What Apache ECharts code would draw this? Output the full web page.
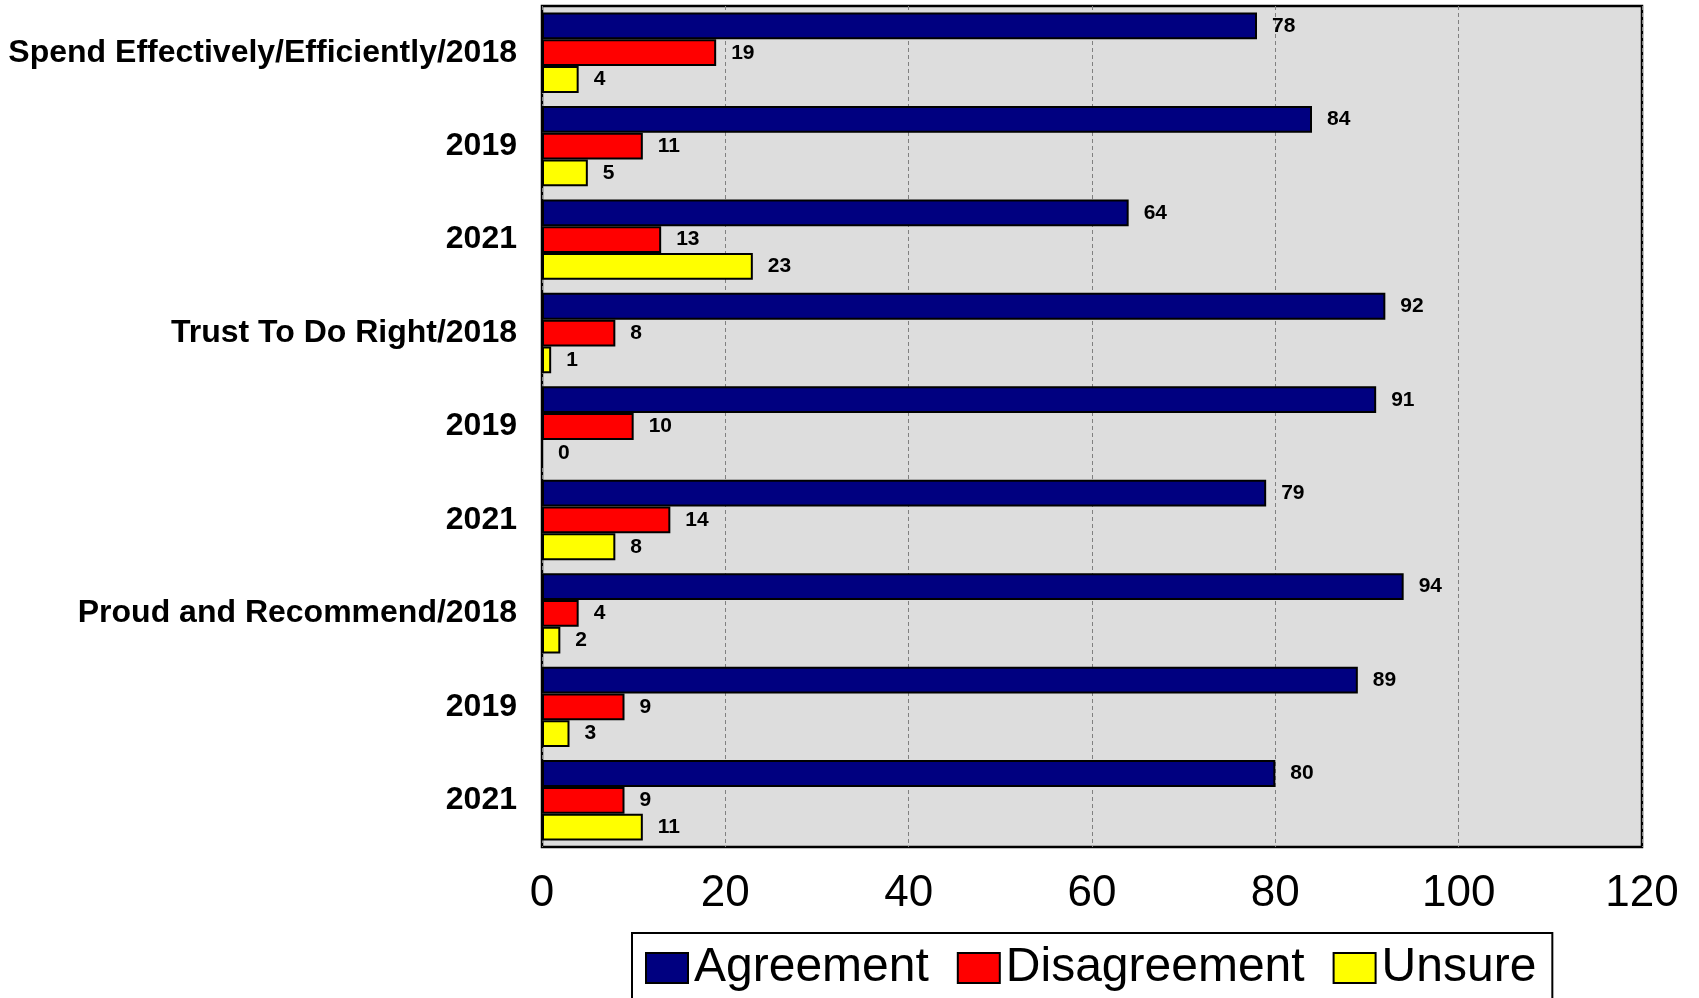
<!DOCTYPE html>
<html>
<head>
<meta charset="utf-8">
<script src="https://cdn.jsdelivr.net/npm/echarts@6/dist/echarts.min.js"></script>
<style>
html,body{margin:0;padding:0;background:#fff;}
#chart{width:1699px;height:998px;}
</style>
</head>
<body>
<div id="chart"></div>
<script>
const categories = ['Spend Effectively/Efficiently/2018','2019','2021','Trust To Do Right/2018','2019','2021','Proud and Recommend/2018','2019','2021'];
const agreement = [78,84,64,92,91,79,94,89,80];
const disagreement = [19,11,13,8,10,14,4,9,9];
const unsure = [4,5,23,1,0,8,2,3,11];
const xTicks = [0,20,40,60,80,100,120];

const chart = echarts.init(document.getElementById('chart'), null, {renderer:'canvas'});
const labelStyle = {show:true, position:'right', distance:15, color:'#000', fontWeight:'bold', fontSize:21, fontFamily:'Liberation Sans, Arial, sans-serif'};
function mk(name, data, color){
  return {
    name, type:'bar', data,
    barGap:'0%', barCategoryGap:'14%',
    itemStyle:{color, borderColor:'#000', borderWidth:2},
    label:labelStyle,
    emphasis:{disabled:true}
  };
}
chart.setOption({
  animation:false,
  grid:{left:542, right:57, top:6, bottom:151, show:true, backgroundColor:'#DDDDDD', borderColor:'#000', borderWidth:2.5, containLabel:false},
  xAxis:{type:'value', min:xTicks[0], max:xTicks[xTicks.length-1], interval:20,
    axisLine:{show:false}, axisTick:{show:false},
    splitLine:{show:true, lineStyle:{color:'#808080', type:[4,3], width:1}},
    axisLabel:{fontSize:44, color:'#000', margin:25, fontFamily:'Liberation Sans, Arial, sans-serif'}},
  yAxis:{type:'category', data:categories, inverse:true,
    axisLine:{show:false}, axisTick:{show:false}, splitLine:{show:false},
    axisLabel:{fontSize:32, fontWeight:'bold', color:'#000', margin:25, fontFamily:'Liberation Sans, Arial, sans-serif'}},
  legend:{left:632, top:933, orient:'horizontal', padding:[11,16,20,13], itemGap:28, itemWidth:42, itemHeight:30,
    borderColor:'#000', borderWidth:2, icon:'rect',
    textStyle:{fontSize:48, color:'#000', fontFamily:'Liberation Sans, Arial, sans-serif', padding:[0,0,0,1]},
    data:['Agreement','Disagreement','Unsure']},
  series:[mk('Agreement',agreement,'#000080'), mk('Disagreement',disagreement,'#FF0000'), mk('Unsure',unsure,'#FFFF00')]
});
</script>
</body>
</html>
